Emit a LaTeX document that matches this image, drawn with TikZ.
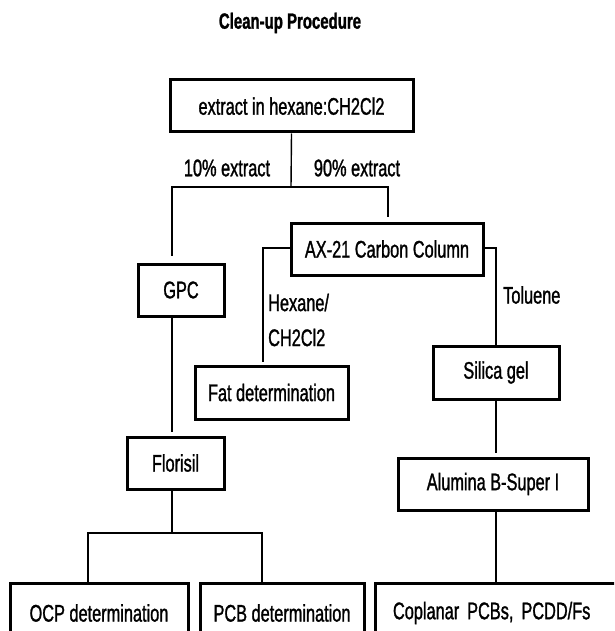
\documentclass[tikz,border=0pt]{standalone}
\usepackage{fontspec}
\setmainfont{Liberation Sans}[FakeStretch=0.68, FakeBold=1.2]
\usetikzlibrary{positioning}

\begin{document}
\begin{tikzpicture}[x=1pt, y=-1pt,
    boxnode/.style={rectangle, draw=black, line width=3pt, inner sep=0pt,
      font=\fontsize{24}{28}\selectfont},
    link/.style={draw=black, line width=1.4pt},
    lbl/.style={inner sep=0pt, font=\fontsize{24}{28}\selectfont},
]
\useasboundingbox (0,0) rectangle (614,631);
\clip (0,0) rectangle (614,631);
\node[font=\bfseries\fontsize{22}{26}\selectfont](title) at (290,23){Clean-up Procedure};
% boxes
\node[boxnode, minimum width=243pt, minimum height=52pt, text depth=-6pt](extract) at (291.5,106){extract in hexane:CH2Cl2};
\node[boxnode, minimum width=192pt, minimum height=52pt](carbon) at (387,249){AX-21 Carbon Column};
\node[boxnode, minimum width=86pt, minimum height=52pt](gpc) at (181,290){GPC};
\node[boxnode, minimum width=153pt, minimum height=53pt](fat) at (271.5,392.5){Fat determination};
\node[boxnode, minimum width=97pt, minimum height=52pt](florisil) at (175.5,463){Florisil};
\node[boxnode, minimum width=126pt, minimum height=53pt](silica) at (496,372.5){Silica gel};
\node[boxnode, minimum width=190pt, minimum height=52pt](alumina) at (493,484){Alumina B-Super I};
\node[boxnode, minimum width=178pt, minimum height=60pt](ocp) at (99,613){OCP determination};
\node[boxnode, minimum width=164pt, minimum height=60pt](pcb) at (282,613){PCB determination};
\node[boxnode, minimum height=60pt, inner xsep=18pt, text width=229pt, align=left](coplanar) at (507.5,613){Coplanar PCBs, PCDD/Fs};
% turning points
\coordinate (split) at (291,187);
\coordinate (lefttop) at (172,187);
\coordinate (righttop) at (388,187);
\coordinate (hexturn) at (263,248);
\coordinate (tolturn) at (496,248);
\coordinate (fork) at (172,533);
\coordinate (ocpturn) at (88,533);
\coordinate (pcbturn) at (262,533);
% connectors
\draw[link] (extract.south) -- (split);
\draw[link, shorten <=5pt, shorten >=7pt] (righttop |- carbon.north) -- (righttop) -- (lefttop) -- (lefttop |- gpc.north);
\draw[link, shorten >=3pt] (carbon.west |- hexturn) -- (hexturn) -- (hexturn |- fat.north);
\draw[link] (carbon.east |- tolturn) -- (tolturn) -- (tolturn |- silica.north);
\draw[link, shorten >=4pt] (lefttop |- gpc.south) -- (lefttop |- florisil.north);
\draw[link] (fork |- florisil.south) -- (fork);
\draw[link] (ocpturn |- ocp.north) -- (ocpturn) -- (pcbturn) -- (pcbturn |- pcb.north);
\draw[link, shorten >=4pt] (silica.south) -- (silica.south |- alumina.north);
\draw[link] (silica.south |- alumina.south) -- (silica.south |- coplanar.north);
% labels
\node[lbl](tenpct) at (227,168){10\% extract};
\node[lbl](ninetypct) at (357,168){90\% extract};
\node[lbl, anchor=west, align=left](hexlbl) at (268,320){Hexane/\\[7pt]CH2Cl2};
\node[lbl, anchor=west](tollbl) at (503,295){Toluene};
\end{tikzpicture}
\end{document}
